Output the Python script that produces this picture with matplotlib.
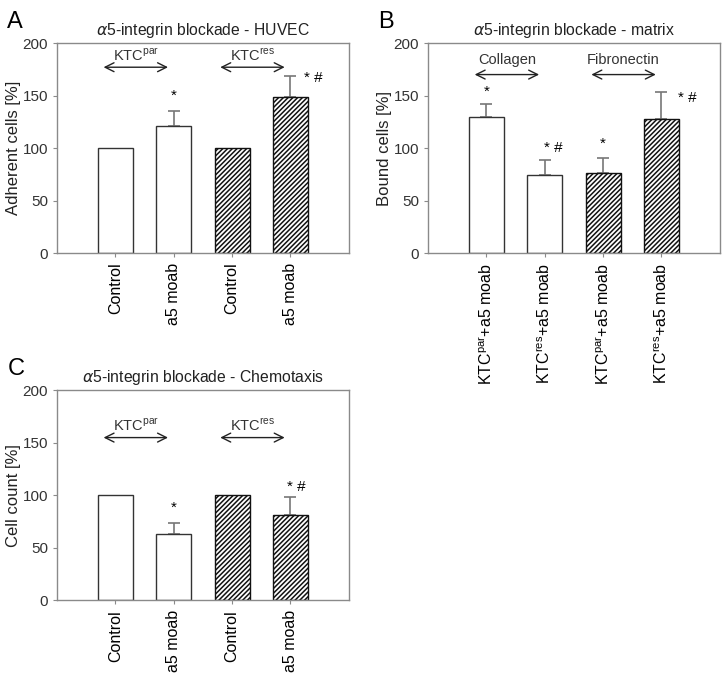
import matplotlib
matplotlib.use("Agg")
import matplotlib.pyplot as plt

plt.rcParams['font.family'] = ['Liberation Sans', 'DejaVu Sans']
plt.rcParams['mathtext.fontset'] = 'custom'
plt.rcParams['mathtext.rm'] = 'Liberation Sans'
plt.rcParams['hatch.linewidth'] = 1.1

# panel A - HUVEC adhesion
a_labels = ["Control", "a5 moab", "Control", "a5 moab"]
a_values = [100, 121, 100, 149]
a_err = [0, 14, 0, 20]
a_marks = ["", "*", "", "* #"]

# panel B - matrix binding
b_labels = [r"KTC$^{\mathrm{par}}$+a5 moab", r"KTC$^{\mathrm{res}}$+a5 moab",
            r"KTC$^{\mathrm{par}}$+a5 moab", r"KTC$^{\mathrm{res}}$+a5 moab"]
b_values = [130, 74, 76, 128]
b_err = [12, 15, 15, 25]
b_marks = ["*", "* #", "*", "* #"]

# panel C - chemotaxis
c_labels = ["Control", "a5 moab", "Control", "a5 moab"]
c_values = [100, 63, 100, 81]
c_err = [0, 11, 0, 17]
c_marks = ["", "*", "", "* #"]

hatched = [False, False, True, True]
spine_col = '#8a8a8a'


def panel(ax, letter, title, ylabel, labels, values, err, marks, mark_pos,
          groups, arrow_y, text_y):
    x = [1, 2, 3, 4]
    for i in range(4):
        if hatched[i]:
            ax.bar(x[i], values[i], width=0.6, facecolor='white',
                   edgecolor='#111111', linewidth=1.0, hatch='///////',
                   zorder=2)
        else:
            ax.bar(x[i], values[i], width=0.6, facecolor='white',
                   edgecolor='#333333', linewidth=1.0, zorder=2)
        if err[i] > 0:
            ax.errorbar(x[i], values[i], yerr=[[0], [err[i]]], fmt='none',
                        ecolor='#777777', elinewidth=1.2, capsize=4,
                        capthick=1.2, zorder=1)
        if marks[i]:
            dx, dy = mark_pos[i]
            ax.text(x[i] + dx, values[i] + err[i] + dy, marks[i],
                    ha='center', va='center', fontsize=11)

    for (x0, x1), name in zip([(0.75, 1.95), (2.75, 3.95)], groups):
        ax.annotate("", xy=(x0, arrow_y), xytext=(x1, arrow_y),
                    arrowprops=dict(arrowstyle='<->', color='#222222',
                                    lw=1.0, mutation_scale=16))
        ax.text((x0 + x1) / 2, text_y, name, ha='center', va='bottom',
                fontsize=10.5, color='#333333')

    ax.set_xlim(0, 5)
    ax.set_ylim(0, 200)
    ax.set_yticks([0, 50, 100, 150, 200])
    ax.set_xticks(x)
    ax.set_xticklabels(labels, rotation=90, fontsize=11.5)
    ax.tick_params(axis='y', labelsize=11, labelcolor='#333333', length=3,
                   color=spine_col)
    ax.tick_params(axis='x', length=3, color=spine_col, pad=4)
    for s in ax.spines.values():
        s.set_color(spine_col)
        s.set_linewidth(1.0)
    ax.set_ylabel(ylabel, fontsize=12, color='#222222', labelpad=1)
    ax.set_title(title, fontsize=11.3, color='#222222', pad=6)
    ax.text(-0.17, 1.155, letter, transform=ax.transAxes, fontsize=17,
            ha='left', va='top')


fig = plt.figure(figsize=(7.22, 6.73), dpi=100)
axA = fig.add_axes([0.079, 0.624, 0.404, 0.312])
axB = fig.add_axes([0.593, 0.624, 0.404, 0.312])
axC = fig.add_axes([0.079, 0.108, 0.404, 0.312])

panel(axA, "A", r"$\alpha$5-integrin blockade - HUVEC", "Adherent cells [%]",
      a_labels, a_values, a_err, a_marks,
      [None, (0, 15), None, (0.4, -2)],
      [r"KTC$^{\mathrm{par}}$", r"KTC$^{\mathrm{res}}$"], 177, 180)
panel(axB, "B", r"$\alpha$5-integrin blockade - matrix", "Bound cells [%]",
      b_labels, b_values, b_err, b_marks,
      [(0, 12), (0.15, 11), (0, 13), (0.45, -5)],
      ["Collagen", "Fibronectin"], 170, 177)
panel(axC, "C", r"$\alpha$5-integrin blockade - Chemotaxis", "Cell count [%]",
      c_labels, c_values, c_err, c_marks,
      [None, (0, 14), None, (0.1, 10)],
      [r"KTC$^{\mathrm{par}}$", r"KTC$^{\mathrm{res}}$"], 155, 158)

fig.savefig("out.png", dpi=100)
